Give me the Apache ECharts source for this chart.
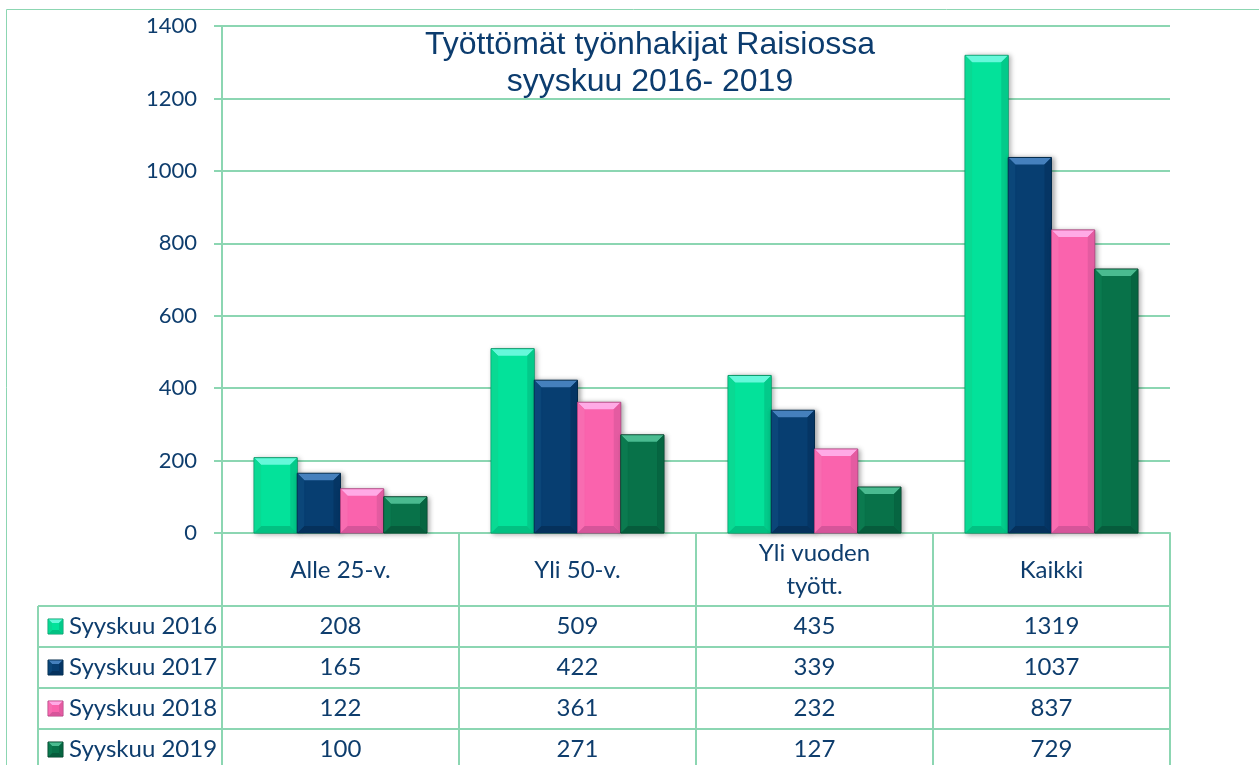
<!DOCTYPE html>
<html>
<head>
<meta charset="utf-8">
<script src="https://cdn.jsdelivr.net/npm/echarts@6/dist/echarts.min.js"></script>
<style>
  html, body { margin: 0; padding: 0; background: #fff; }
  #chart { width: 1259px; height: 765px; }
</style>
</head>
<body>
<div id="chart"></div>
<script>
// data
const categories = ['Alle 25-v.', 'Yli 50-v.', 'Yli vuoden\ntyött.', 'Kaikki'];
const seriesNames = ['Syyskuu 2016', 'Syyskuu 2017', 'Syyskuu 2018', 'Syyskuu 2019'];
const sep2016 = [208, 509, 435, 1319];
const sep2017 = [165, 422, 339, 1037];
const sep2018 = [122, 361, 232, 837];
const sep2019 = [100, 271, 127, 729];
const yMax = 1400;
const yStep = 200;

const allValues = [sep2016, sep2017, sep2018, sep2019];

// bevelled bar colours
const palettes = [
  { base: '#03e29a', top: '#66f8da', bottom: '#02c182', left: '#0ad993', right: '#03ca8a', edge: '#0b9a6b' },
  { base: '#073e71', top: '#4580bd', bottom: '#05315c', left: '#0b4679', right: '#053564', edge: '#032a4b' },
  { base: '#fa63ad', top: '#ffaae6', bottom: '#d6559a', left: '#f86cb1', right: '#e45ba1', edge: '#ad4481' },
  { base: '#087249', top: '#4abb90', bottom: '#065c3c', left: '#0b7a4f', right: '#066541', edge: '#03402a' }
];

const lineColor = '#8cd6b2';
const textColor = '#0e3d6d';
const fontFam = 'Lato, "Noto Sans", sans-serif';

// layout
const plotLeft = 222, plotRight = 1170, plotTop = 26, axisY = 533;
const headerBottom = 606, rowH = 41, tableLeft = 38, pageBottom = 765;
const catW = (plotRight - plotLeft) / categories.length;

function bevel(x0, y0, w, h, c, b, shadow) {
  const x1 = x0 + w, y1 = y0 + h;
  b = Math.min(b, h / 2, w / 2);
  const main = { type: 'rect', shape: { x: x0, y: y0, width: w, height: h },
    style: { fill: c.base, stroke: c.edge, lineWidth: 1 } };
  if (shadow) {
    main.style.shadowBlur = 5;
    main.style.shadowColor = 'rgba(0,0,0,0.35)';
    main.style.shadowOffsetX = 2;
    main.style.shadowOffsetY = 1;
  }
  return [
    main,
    { type: 'polygon', shape: { points: [[x0 + 0.5, y0 + 0.5], [x1 - 0.5, y0 + 0.5], [x1 - b, y0 + b], [x0 + b, y0 + b]] }, style: { fill: c.top } },
    { type: 'polygon', shape: { points: [[x0 + 0.5, y1 - 0.5], [x1 - 0.5, y1 - 0.5], [x1 - b, y1 - b], [x0 + b, y1 - b]] }, style: { fill: c.bottom } },
    { type: 'polygon', shape: { points: [[x0 + 0.5, y0 + 0.5], [x0 + b, y0 + b], [x0 + b, y1 - b], [x0 + 0.5, y1 - 0.5]] }, style: { fill: c.left } },
    { type: 'polygon', shape: { points: [[x1 - 0.5, y0 + 0.5], [x1 - b, y0 + b], [x1 - b, y1 - b], [x1 - 0.5, y1 - 0.5]] }, style: { fill: c.right } }
  ];
}

function makeRender(si) {
  return function (params, api) {
    const idx = api.value(0);
    const val = api.value(1);
    const base = api.coord([idx, 0]);
    const top = api.coord([idx, val]);
    const cw = api.size([1, 0])[0];
    const bw = cw * 0.73 / 4;
    const x0 = base[0] - 2 * bw + si * bw;
    return { type: 'group', children: bevel(x0, top[1], bw, base[1] - top[1], palettes[si], 7, true) };
  };
}

const series = seriesNames.map((name, si) => ({
  name: name,
  type: 'custom',
  renderItem: makeRender(si),
  encode: { x: 0, y: 1 },
  data: allValues[si].map((v, i) => [i, v]),
  z: 3
}));

// table drawn with graphic elements
const graphic = [];
function hLine(y, x1, x2) {
  graphic.push({ type: 'line', shape: { x1: x1, y1: y, x2: x2, y2: y }, style: { stroke: lineColor, lineWidth: 2 }, silent: true });
}
function vLine(x, y1, y2) {
  graphic.push({ type: 'line', shape: { x1: x, y1: y1, x2: x, y2: y2 }, style: { stroke: lineColor, lineWidth: 2 }, silent: true });
}

// outer frame
graphic.push({ type: 'rect', shape: { x: 6.5, y: 9.5, width: 1300, height: 800 }, style: { fill: 'none', stroke: lineColor, lineWidth: 1 }, silent: true });

vLine(plotLeft, axisY, pageBottom + 5);
for (let i = 1; i <= categories.length; i++) vLine(plotLeft + i * catW, axisY, pageBottom + 5);
vLine(tableLeft, headerBottom, pageBottom + 5);
for (let r = 0; r < seriesNames.length; r++) hLine(headerBottom + r * rowH, tableLeft, plotRight);

seriesNames.forEach((name, r) => {
  const cy = headerBottom + r * rowH + rowH / 2;
  graphic.push({ type: 'group', children: bevel(48, cy - 7.5, 15, 15, palettes[r], 4, false) });
  graphic.push({ type: 'text', x: 69, y: cy, style: { text: name, fill: textColor, font: '24px ' + fontFam, textAlign: 'left', textVerticalAlign: 'middle' } });
  allValues[r].forEach((v, c) => {
    graphic.push({ type: 'text', x: plotLeft + c * catW + catW / 2, y: cy, style: { text: String(v), fill: textColor, font: '24px ' + fontFam, textAlign: 'center', textVerticalAlign: 'middle' } });
  });
});

// title
graphic.push({ type: 'text', x: 650, y: 27, z: 10, style: {
  text: 'Työttömät työnhakijat Raisiossa\nsyyskuu 2016- 2019',
  fill: '#0c3c6e', font: '32px "Liberation Sans", Arial, sans-serif',
  textAlign: 'center', lineHeight: 37 } });

const chart = echarts.init(document.getElementById('chart'));
chart.setOption({
  animation: false,
  backgroundColor: '#ffffff',
  grid: { left: plotLeft, right: 1259 - plotRight, top: plotTop, bottom: 765 - axisY },
  xAxis: {
    type: 'category',
    data: categories,
    axisLine: { show: true, lineStyle: { color: lineColor, width: 2 } },
    axisTick: { show: false },
    axisLabel: { color: textColor, fontSize: 24, fontFamily: fontFam, lineHeight: 33, margin: 37, verticalAlign: 'middle', interval: 0 }
  },
  yAxis: {
    type: 'value',
    min: 0,
    max: yMax,
    interval: yStep,
    axisLine: { show: true, lineStyle: { color: lineColor, width: 2 } },
    axisTick: { show: true, length: 8, lineStyle: { color: lineColor, width: 2 } },
    splitLine: { show: true, lineStyle: { color: lineColor, width: 2 } },
    axisLabel: { color: textColor, fontSize: 22, fontFamily: fontFam, margin: 25, formatter: v => String(v) }
  },
  graphic: graphic,
  series: series
});
</script>
</body>
</html>
